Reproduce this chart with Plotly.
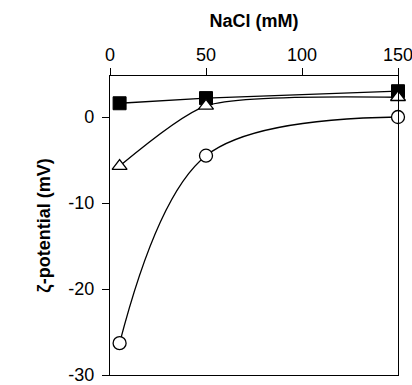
import plotly.graph_objects as go

nacl = [5, 50, 150]
square_vals = [1.6, 2.2, 3.0]
triangle_vals = [-5.7, 1.3, 2.3]
circle_vals = [-26.3, -4.5, 0.0]

x_ticks = [0, 50, 100, 150]
x_tick_text = ["0", "50", "100", "150"]
y_ticks = [0, -10, -20, -30]
y_tick_text = ["0", "-10", "-20", "-30"]

fig = go.Figure()

fig.add_trace(go.Scatter(
    x=nacl, y=circle_vals, mode="lines+markers",
    line=dict(color="black", width=1.3, shape="spline", smoothing=1.0),
    marker=dict(symbol="circle", size=13, color="white", line=dict(color="black", width=1.3)),
    cliponaxis=False, showlegend=False))
fig.add_trace(go.Scatter(
    x=nacl, y=square_vals, mode="lines+markers",
    line=dict(color="black", width=1.3),
    marker=dict(symbol="square", size=13, color="black", line=dict(color="black", width=1)),
    cliponaxis=False, showlegend=False))
fig.add_trace(go.Scatter(
    x=nacl, y=triangle_vals, mode="lines+markers",
    line=dict(color="black", width=1.3, shape="spline", smoothing=0.65),
    marker=dict(symbol="triangle-up", size=13, color="white", line=dict(color="black", width=1.3)),
    cliponaxis=False, showlegend=False))

font_family = "Liberation Sans, Arial, sans-serif"

fig.update_layout(
    width=412, height=385,
    margin=dict(l=110, r=14, t=76, b=10),
    paper_bgcolor="white", plot_bgcolor="white",
    font=dict(family=font_family, color="black", size=17),
    xaxis=dict(
        side="top", range=[0, 150], tickvals=x_ticks, ticktext=x_tick_text,
        ticks="outside", ticklen=7, tickwidth=1.3, tickcolor="black",
        showline=True, linecolor="black", linewidth=1.3, mirror=True,
        showgrid=False, zeroline=False, ticklabeloverflow="allow", automargin=False,
        tickfont=dict(size=18),
        title=dict(text="<b>NaCl (mM)</b>", font=dict(size=18), standoff=12),
    ),
    yaxis=dict(
        range=[-30, 4.77], tickvals=y_ticks, ticktext=y_tick_text,
        ticks="outside", ticklen=7, tickwidth=1.3, tickcolor="black",
        showline=True, linecolor="black", linewidth=1.3, mirror=True,
        showgrid=False, zeroline=False, ticklabeloverflow="allow", automargin=False,
        ticklabelstandoff=4,
        tickfont=dict(size=18),
        title=dict(text="<b>ζ-potential (mV)</b>", font=dict(size=18), standoff=12),
    ),
)

fig.write_html("out.html")
